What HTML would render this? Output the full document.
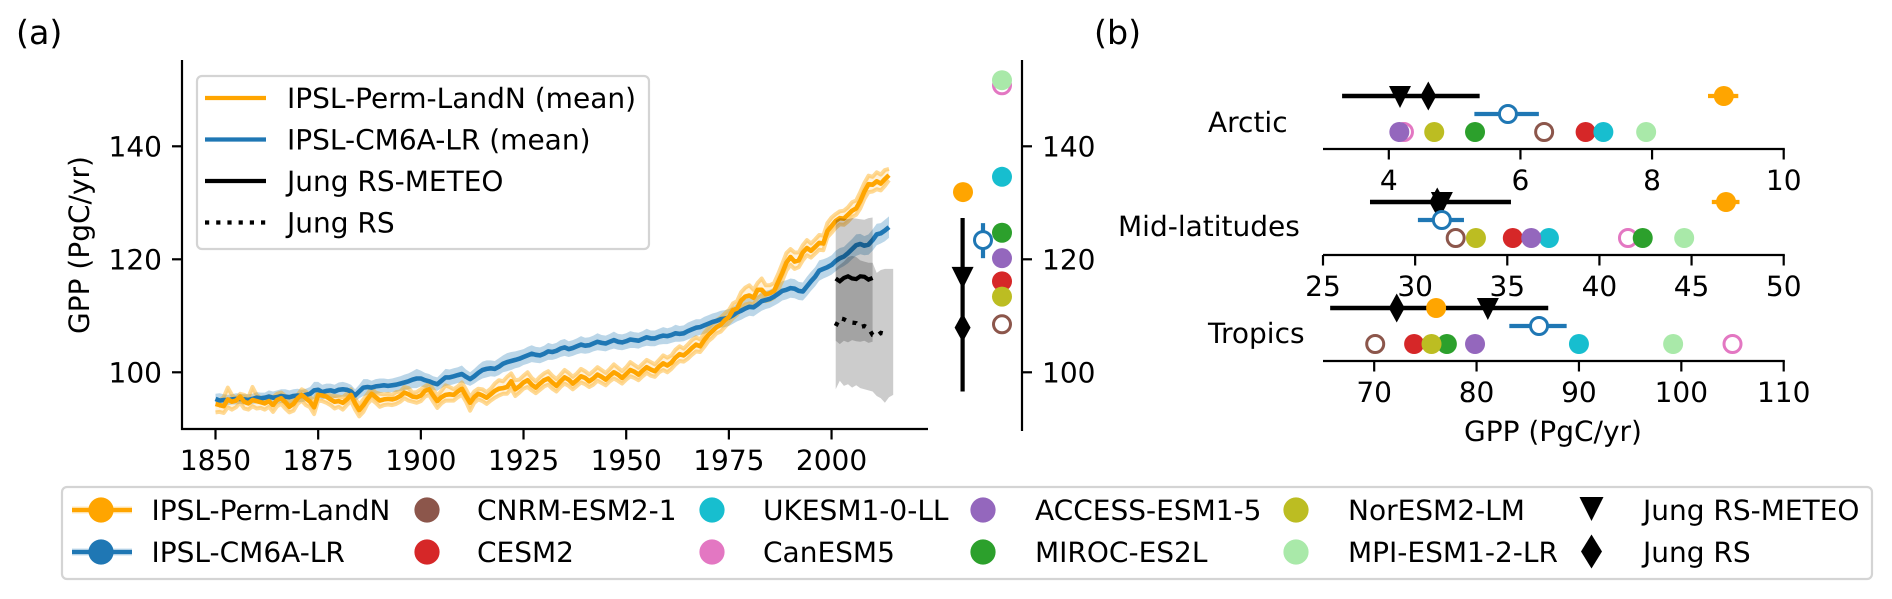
<!DOCTYPE html>
<html>
<head>
<meta charset="utf-8">
<title>GPP comparison chart</title>
<style>
html,body{margin:0;padding:0;background:#fff;width:1892px;height:599px;overflow:hidden}
svg{display:block}
text{font-family:"DejaVu Sans","Liberation Sans",sans-serif;font-size:28px;fill:#000;text-rendering:geometricPrecision}
</style>
</head>
<body>
<svg id="chart" xmlns="http://www.w3.org/2000/svg" width="1892" height="599" viewBox="0 0 1892 599">
  <text x="16" y="44" style="font-size:33.3px">(a)</text>
  <text x="1094" y="44" style="font-size:33.3px">(b)</text>
  <text transform="translate(89,245) rotate(-90)" text-anchor="middle">GPP (PgC/yr)</text>
  <text x="1553" y="441" text-anchor="middle">GPP (PgC/yr)</text>
  <text x="1208" y="132">Arctic</text>
  <text x="1118" y="236">Mid-latitudes</text>
  <text x="1208" y="343">Tropics</text>
</svg>
<script>
// ---- Panel (a) time axis
const startYear = 1850;
const yearTicks = [1850, 1875, 1900, 1925, 1950, 1975, 2000];
const gppTicks = [100, 120, 140];

// ---- Panel (a) series, one value per year from 1850
const orangeMean = [
94.4,94.2,94.0,95.2,94.8,95.0,95.7,94.8,94.5,95.1,
94.9,94.7,94.5,94.9,94.2,95.1,95.4,94.7,93.9,94.4,
95.4,96.0,95.4,94.8,93.8,96.0,95.9,95.7,95.2,94.8,
94.9,94.6,95.2,96.0,94.5,93.3,94.2,95.3,96.2,95.6,
95.0,95.2,95.3,95.2,95.4,95.8,96.4,96.1,95.7,95.6,
95.9,96.7,97.0,95.9,94.9,95.6,96.0,96.1,96.0,96.6,
97.1,95.8,94.6,95.6,96.2,95.9,95.5,96.1,96.7,97.1,
97.2,97.4,98.4,97.0,97.5,98.2,98.6,97.8,97.3,98.0,
98.6,98.9,98.2,97.6,98.4,99.1,98.7,98.0,98.6,99.3,
99.0,98.4,98.9,99.6,99.2,98.7,99.4,100.0,99.6,99.0,
99.7,100.4,100.1,99.6,100.3,100.9,100.5,100.2,101.0,101.6,
101.2,101.7,102.6,103.2,103.0,103.6,104.3,104.9,104.6,105.7,
106.6,107.3,108.0,108.4,109.2,109.8,111.0,111.3,112.7,113.4,
113.6,113.2,114.6,114.6,113.8,114.0,114.4,116.0,117.6,119.4,
120.4,119.6,119.8,121.2,122.0,121.5,122.2,122.9,122.8,125.0,
125.9,126.8,127.3,127.2,127.9,128.6,129.0,130.3,132.0,133.3,
133.2,133.8,133.4,134.2,134.9];
const orangeHigh = [
95.2,95.0,95.6,97.3,96.0,95.4,96.2,96.0,95.6,97.4,
96.0,95.4,95.3,95.8,95.6,96.2,96.4,95.8,94.7,95.2,
96.0,97.0,96.6,95.6,95.0,96.7,96.5,96.2,95.9,95.8,
95.7,95.6,96.2,97.0,95.4,94.3,95.2,96.2,97.2,96.4,
96.2,96.1,96.2,96.0,96.5,96.6,97.4,97.2,96.4,96.5,
97.0,97.5,98.0,97.0,95.9,96.7,97.7,97.4,97.0,97.5,
98.2,97.0,95.6,96.6,97.1,97.0,96.5,97.1,98.0,98.6,
98.4,99.2,99.8,98.6,98.7,99.4,100.0,99.0,98.4,99.2,
99.8,100.2,99.4,98.8,99.6,100.4,99.9,99.2,99.8,100.6,
100.2,99.6,100.2,100.9,100.4,99.9,100.6,101.4,100.8,100.2,
100.9,101.8,101.3,100.8,101.5,102.2,101.8,101.4,102.2,103.0,
102.6,103.0,104.0,104.6,104.2,104.9,105.7,106.2,105.8,107.0,
107.8,108.6,109.2,109.7,110.4,111.0,112.2,112.6,114.2,115.0,
115.4,114.6,115.8,116.6,115.4,115.4,115.8,117.4,119.2,121.1,
121.8,121.2,121.2,122.5,123.4,122.8,123.5,124.3,124.2,126.4,
127.4,128.0,128.5,128.6,129.2,130.1,130.4,131.9,133.5,134.8,
134.6,135.4,135.0,135.8,136.0];
const orangeLow = [
92.9,93.0,92.8,93.8,93.4,93.8,94.6,93.6,93.4,94.0,
93.6,93.7,93.4,93.9,93.0,94.0,94.4,93.6,92.9,93.2,
94.4,95.0,94.2,93.8,92.6,95.0,94.9,94.6,94.2,93.6,
93.9,93.4,94.2,94.9,93.4,92.2,93.0,94.4,95.2,94.6,
93.9,94.2,94.3,94.2,94.4,94.8,95.4,95.0,94.8,94.6,
94.9,95.7,96.0,94.8,93.7,94.5,95.0,95.0,95.0,95.6,
96.0,94.8,93.2,94.6,95.2,94.9,94.4,95.0,95.5,95.9,
96.2,96.2,97.1,95.8,96.4,97.1,97.4,96.8,96.3,96.9,
97.5,97.8,97.1,96.6,97.4,98.0,97.6,97.0,97.6,98.2,
97.9,97.4,97.8,98.5,98.1,97.7,98.4,98.9,98.5,98.0,
98.7,99.3,99.0,98.6,99.3,99.9,99.4,99.2,100.0,100.4,
100.0,100.6,101.4,102.0,101.9,102.4,103.1,103.7,103.6,104.5,
105.5,106.1,106.9,107.2,108.0,108.8,109.6,110.2,111.4,112.0,
112.2,112.0,113.2,113.6,112.6,112.8,113.2,114.6,116.2,118.0,
119.0,118.3,118.6,119.8,120.7,120.3,121.0,121.7,121.6,123.9,
124.7,125.6,126.2,126.1,126.7,127.5,127.9,129.0,130.7,131.9,
132.0,132.4,132.2,133.0,134.0];
const blueMean = [
95.3,95.0,95.1,95.1,95.2,95.3,95.3,95.2,95.1,95.3,
95.5,95.4,95.5,95.7,95.5,95.6,95.8,95.7,95.6,95.8,
95.9,95.8,96.0,96.2,96.8,96.9,96.5,96.7,96.8,96.6,
96.9,97.0,96.9,96.6,95.9,96.6,97.3,97.4,97.3,97.5,
97.6,97.7,97.6,97.7,97.8,98.0,98.2,98.4,98.7,98.9,
98.9,98.6,98.4,98.1,97.9,98.5,99.1,99.1,99.3,99.5,
99.7,99.2,98.8,99.3,99.9,100.4,100.6,100.7,100.6,101.0,
101.5,101.8,102.0,102.2,102.4,102.7,103.0,103.3,103.1,103.0,
103.3,103.7,103.6,103.8,104.2,104.4,104.1,104.3,104.6,104.9,
104.7,104.8,105.1,105.4,105.2,105.1,105.4,105.7,105.4,105.3,
105.5,105.8,105.7,105.6,105.9,106.2,106.0,106.0,106.3,106.5,
106.4,106.6,106.9,106.8,106.9,107.3,107.6,107.9,108.0,108.3,
108.6,108.9,109.1,109.4,109.5,109.7,110.1,110.6,110.9,111.3,
111.6,111.5,112.0,112.6,112.8,113.0,113.4,113.9,114.4,114.6,
114.9,114.8,114.4,114.3,115.2,116.1,116.9,118.0,118.3,118.6,
119.0,119.7,120.2,120.5,121.1,121.8,122.5,122.7,122.4,122.6,
123.4,124.4,124.6,125.1,125.7];
const blueSpread = [
0.9,1.3,1.0,0.9,0.9,1.0,0.9,0.9,1.0,0.9,
1.0,1.0,0.9,1.1,1.1,1.2,1.2,1.3,1.2,1.2,
1.2,1.1,1.1,1.2,1.5,1.4,1.3,1.3,1.2,1.2,
1.3,1.3,1.2,1.2,1.1,1.2,1.5,1.4,1.2,1.3,
1.3,1.2,1.2,1.2,1.3,1.3,1.4,1.4,1.5,1.7,
1.4,1.3,1.3,1.2,1.2,1.3,1.5,1.4,1.4,1.4,
1.5,1.3,1.2,1.3,1.4,1.5,1.5,1.4,1.4,1.5,
1.5,1.6,1.6,1.5,1.5,1.4,1.5,1.5,1.4,1.4,
1.4,1.5,1.4,1.4,1.5,1.5,1.4,1.4,1.4,1.5,
1.4,1.4,1.4,1.5,1.4,1.4,1.4,1.5,1.4,1.4,
1.4,1.5,1.4,1.4,1.4,1.5,1.4,1.4,1.4,1.5,
1.4,1.4,1.5,1.4,1.4,1.5,1.5,1.5,1.4,1.5,
1.5,1.5,1.5,1.5,1.5,1.5,1.5,1.6,1.6,1.6,
1.6,1.6,1.6,1.7,1.6,1.6,1.6,1.7,1.7,1.7,
1.7,1.7,1.6,1.6,1.7,1.7,1.7,1.8,1.7,1.7,
1.7,1.8,1.8,1.7,1.8,1.8,1.9,1.8,1.7,1.8,
1.9,1.9,1.8,1.9,1.9];

// ---- Jung products (yearly from 2001)
const jungStartYear = 2001;
const meteoLine = [116.6,116.1,116.7,117.0,116.6,116.5,117.0,116.9,116.4,116.7];
const meteoHigh = [126.9,127.3,127.2,127.1,127.3,127.2,127.1,127.0,127.3,127.4];
const meteoLow = [105.6,105.0,105.6,105.3,105.7,105.5,105.4,105.6,105.2,105.4];
const rsLine = [108.2,109.6,109.4,109.0,108.8,108.7,108.0,108.2,107.8,106.6,106.4,107.0,106.8];
const rsHigh = [118.4,119.0,119.6,120.4,120.6,120.4,119.8,119.6,119.4,119.4,117.6,118.1,118.3,118.3,118.3];
const rsLow = [97.0,98.5,97.6,97.9,97.3,97.7,97.2,97.0,96.8,96.6,95.8,95.4,94.6,95.6,96.0];

// ---- Model means: columns are global, Arctic, mid-latitudes, tropics
const modelNames = ["CNRM-ESM2-1","CESM2","UKESM1-0-LL","CanESM5","ACCESS-ESM1-5","MIROC-ES2L","NorESM2-LM","MPI-ESM1-2-LR"];
const modelColors = ["#8c564b","#d62728","#17becf","#e377c2","#9467bd","#2ca02c","#bcbd22","#a9e9a9"];
const modelOpen = [true,false,false,true,false,false,false,false];
const globalValues = [108.5,116.1,134.6,150.8,120.2,124.7,113.4,151.7];
const arcticValues = [6.36,6.99,7.26,4.23,4.16,5.31,4.69,7.91];
const midValues = [32.2,35.3,37.26,41.55,36.3,42.35,33.3,44.6];
const tropicsValues = [70.1,73.9,90.0,105.0,79.85,77.1,75.6,99.2];

// ---- IPSL and Jung values with ranges: global, Arctic, mid-latitudes, tropics
const permValues = [131.9,9.09,46.87,76.05];
const permLow = [131.9,8.85,46.1,76.05];
const permHigh = [131.9,9.31,47.6,76.05];
const cm6aValues = [123.4,5.81,31.45,86.1];
const cm6aLow = [120.2,5.30,30.15,83.2];
const cm6aHigh = [126.4,6.28,32.65,88.8];
const jungMeteoValues = [116.9,4.17,31.45,81.1];
const jungRsValues = [107.9,4.6,31.2,72.2];
const jungLow = [96.6,3.29,27.55,65.7];
const jungHigh = [127.3,5.38,35.2,87.0];

// ---- Panel (b) axes
const arcticTicks = [4,6,8,10];
const midTicks = [25,30,35,40,45,50];
const tropicsTicks = [70,80,90,100,110];
const regionNames = ["arctic","mid-latitudes","tropics"];

const NS = "http://www.w3.org/2000/svg";
const svg = document.getElementById("chart");
const ORANGE = "#ffa500", BLUE = "#1f77b4";

function add(tag, attrs, parent) {
  const el = document.createElementNS(NS, tag);
  for (const k in attrs) el.setAttribute(k, attrs[k]);
  (parent || svg).appendChild(el);
  return el;
}
function xYear(y) { return 215.5 + (y - 1850) * 4.107; }
function yGpp(v) { return 372.3 - (v - 100) * 5.65; }
const regionScales = [
  { min: 3, max: 10, axisY: 149 },
  { min: 25, max: 50, axisY: 255 },
  { min: 65, max: 110, axisY: 361 }
];
function xRegion(r, v) {
  const s = regionScales[r];
  return 1323 + (v - s.min) / (s.max - s.min) * 460.7;
}
function yearPoints(arr, first) {
  return arr.map((v, i) => xYear(first + i).toFixed(1) + "," + yGpp(v).toFixed(1));
}

function drawDot(x, y, color, open, r) {
  const c = add("circle", open
    ? { cx: x, cy: y, r: r - 1.5, fill: "#fff", stroke: color, "stroke-width": 3 }
    : { cx: x, cy: y, r: r, fill: color });
  
  
  return c;
}
function triangle(x, y, hw, up, down) {
  const p = add("polygon", { points: (x - hw) + "," + (y - up) + " " + (x + hw) + "," + (y - up) + " " + x + "," + (y + down), fill: "#000" });
  
  
  return p;
}
function diamond(x, y, hw, hh) {
  const p = add("polygon", { points: x + "," + (y - hh) + " " + (x + hw) + "," + y + " " + x + "," + (y + hh) + " " + (x - hw) + "," + y, fill: "#000" });
  
  
  return p;
}
function segment(x1, y1, x2, y2, color, w) {
  const l = add("line", { x1: x1, y1: y1, x2: x2, y2: y2, stroke: color, "stroke-width": w });
  
  
  return l;
}
function label(x, y, str, anchor) {
  const t = add("text", { x: x, y: y, "text-anchor": anchor || "start" });
  t.textContent = str;
  
  
  return t;
}

// --- Panel (a) series
const bluePoly = yearPoints(blueMean.map((v, i) => v + blueSpread[i]), startYear)
  .concat(yearPoints(blueMean.map((v, i) => v - blueSpread[i]), startYear).reverse());
const blueBand = add("polygon", { points: bluePoly.join(" "), fill: BLUE, "fill-opacity": 0.3 });



const orangeFill = add("polygon", { points: yearPoints(orangeHigh, startYear).concat(yearPoints(orangeLow, startYear).reverse()).join(" "), fill: ORANGE, "fill-opacity": 0.14 });


const memberHigh = add("polyline", { points: yearPoints(orangeHigh, startYear).join(" "), fill: "none", stroke: ORANGE, "stroke-opacity": 0.42, "stroke-width": 4, "stroke-linejoin": "round" });


const memberLow = add("polyline", { points: yearPoints(orangeLow, startYear).join(" "), fill: "none", stroke: ORANGE, "stroke-opacity": 0.42, "stroke-width": 4, "stroke-linejoin": "round" });



const blueLine = add("polyline", { points: yearPoints(blueMean, startYear).join(" "), fill: "none", stroke: BLUE, "stroke-width": 4.6, "stroke-linejoin": "round" });


const orangeLine = add("polyline", { points: yearPoints(orangeMean, startYear).join(" "), fill: "none", stroke: ORANGE, "stroke-width": 4.6, "stroke-linejoin": "round" });



// Jung uncertainty bands
const meteoBand = add("polygon", { points: yearPoints(meteoHigh, jungStartYear).concat(yearPoints(meteoLow, jungStartYear).reverse()).join(" "), fill: "#000", "fill-opacity": 0.2 });


const rsBand = add("polygon", { points: yearPoints(rsHigh, jungStartYear).concat(yearPoints(rsLow, jungStartYear).reverse()).join(" "), fill: "#000", "fill-opacity": 0.2 });


const meteoTrace = add("polyline", { points: yearPoints(meteoLine, jungStartYear).join(" "), fill: "none", stroke: "#000", "stroke-width": 4.2 });


const rsTrace = add("polyline", { points: yearPoints(rsLine, jungStartYear).join(" "), fill: "none", stroke: "#000", "stroke-width": 4.2, "stroke-dasharray": "4.2 7" });



// --- Panel (a) axes
const spineLeft = segment(182, 60, 182, 430, "#000", 2.2);

const spineBottom = segment(181, 429, 928, 429, "#000", 2.2);

const spineRight = segment(1022, 60, 1022, 431, "#000", 2.2);

yearTicks.forEach(function (y) {
  const t = segment(xYear(y), 429, xYear(y), 439.5, "#000", 2.2);
  
  const l = label(xYear(y), 470, String(y), "middle");
  
});
gppTicks.forEach(function (v) {
  const t = segment(172, yGpp(v), 182, yGpp(v), "#000", 2.2);
  
  const l = label(162, yGpp(v) + 10, String(v), "end");
  
  const t2 = segment(1022, yGpp(v), 1032, yGpp(v), "#000", 2.2);
  
  const l2 = label(1042, yGpp(v) + 10, String(v), "start");
  
});

// --- Panel (a) legend
const legendA = add("rect", { x: 197, y: 76, width: 452, height: 173, rx: 5, fill: "#fff", "fill-opacity": 0.8, stroke: "#d4d4d4", "stroke-width": 2.2 });


const legendAText = ["IPSL-Perm-LandN (mean)", "IPSL-CM6A-LR (mean)", "Jung RS-METEO", "Jung RS"];
const legendAColor = [ORANGE, BLUE, "#000", "#000"];
legendAText.forEach(function (s, i) {
  const y = 98 + i * 41.5;
  const h = segment(205, y, 266, y, legendAColor[i], 4.2);
  
  if (i === 3) h.setAttribute("stroke-dasharray", "4.2 7");
  const t = label(287, y + 10, s);
  
});

// --- Panel (a) summary column
const jungColumn = segment(962.6, yGpp(jungHigh[0]), 962.6, yGpp(jungLow[0]), "#000", 4.2);

triangle(962.6, yGpp(jungMeteoValues[0]), 11, 10, 12);
diamond(962.6, yGpp(jungRsValues[0]), 8, 14.5);
const cmColumn = segment(983, yGpp(cm6aHigh[0]), 983, yGpp(cm6aLow[0]), BLUE, 4.2);

drawDot(983, yGpp(cm6aValues[0]), BLUE, true, 10);
drawDot(963, yGpp(permValues[0]), ORANGE, false, 10);
globalValues.forEach(function (v, i) {
  drawDot(1002, yGpp(v), modelColors[i], modelOpen[i], 10);
});

// --- Panel (b)
const regionTicks = [arcticTicks, midTicks, tropicsTicks];
const regionSeries = [arcticValues, midValues, tropicsValues];
regionScales.forEach(function (s, r) {
  const idx = r + 1;
  const ay = s.axisY;
  const jy = ay - 53, by = ay - 35, dy = ay - 17;
  const spine = segment(1323, ay, 1784.8, ay, "#000", 2.2);
  
  regionTicks[r].forEach(function (v) {
    const x = xRegion(r, v);
    const t = segment(x, ay, x, ay + 10.5, "#000", 2.2);
    
    const l = label(x, ay + 41, String(v), "middle");
    
  });
  const jr = segment(xRegion(r, jungLow[idx]), jy, xRegion(r, jungHigh[idx]), jy, "#000", 4.4);
  
  triangle(xRegion(r, jungMeteoValues[idx]), jy, 11, 10, 12);
  diamond(xRegion(r, jungRsValues[idx]), jy, 8, 14.5);
  const cr = segment(xRegion(r, cm6aLow[idx]), by, xRegion(r, cm6aHigh[idx]), by, BLUE, 4.2);
  
  drawDot(xRegion(r, cm6aValues[idx]), by, BLUE, true, 10);
  const pr = segment(xRegion(r, permLow[idx]), jy, xRegion(r, permHigh[idx]), jy, ORANGE, 4.2);
  
  drawDot(xRegion(r, permValues[idx]), jy, ORANGE, false, 10);
  regionSeries[r].forEach(function (v, i) {
    drawDot(xRegion(r, v), dy, modelColors[i], modelOpen[i], 10);
  });
});

// --- Bottom legend
const legendB = add("rect", { x: 62, y: 487, width: 1810, height: 92, rx: 5, fill: "#fff", stroke: "#d4d4d4", "stroke-width": 2.2 });


const rowY = [510, 552];
[[ORANGE, "IPSL-Perm-LandN"], [BLUE, "IPSL-CM6A-LR"]].forEach(function (e, i) {
  const band = segment(72, rowY[i], 132, rowY[i], e[0], 7);
  band.setAttribute("stroke-opacity", 0.25);
  
  const ln = segment(72, rowY[i], 132, rowY[i], e[0], 4.2);
  
  const m = drawDot(101, rowY[i], e[0], false, 12.6);
  
  const t = label(151.5, rowY[i] + 10, e[1]);
  
});
const legendMarkerX = [427, 427, 712, 712, 983, 983, 1296, 1296];
const legendTextX = [477, 477, 763, 763, 1035, 1035, 1348, 1348];
modelNames.forEach(function (n, i) {
  const m = drawDot(legendMarkerX[i], rowY[i % 2], modelColors[i], false, 12.6);
  
  const t = label(legendTextX[i], rowY[i % 2] + 10, n);
  
});
const legTri = triangle(1591.5, 509, 12, 12, 12);

const legTriText = label(1643, 520, "Jung RS-METEO");

const legDia = diamond(1591.5, 551.5, 10.5, 17);

const legDiaText = label(1643, 562, "Jung RS");

</script>
</body>
</html>
